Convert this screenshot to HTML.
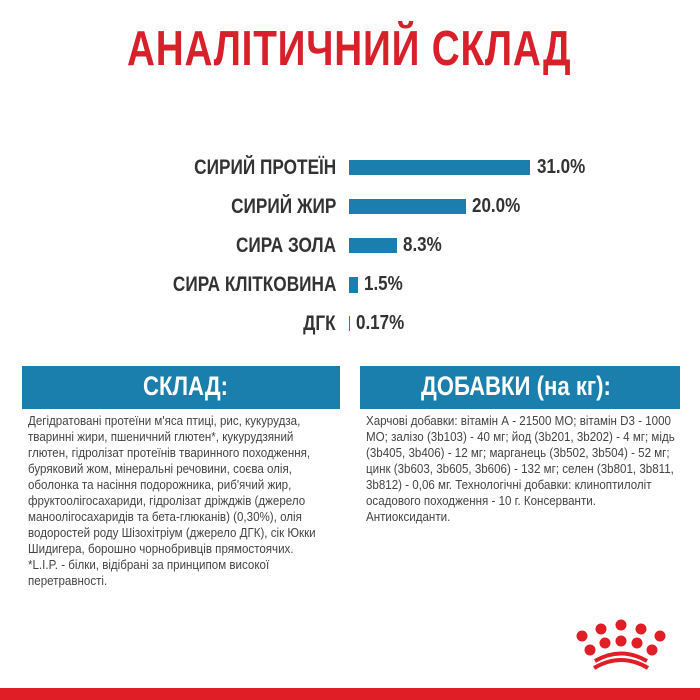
<!DOCTYPE html>
<html><head><meta charset="utf-8"><style>
body{margin:0;width:700px;height:700px;background:#fff;position:relative;overflow:hidden;font-family:"Liberation Sans",sans-serif;}
.a{position:absolute;white-space:nowrap;transform-origin:0 0;}
.t{color:#d7202a;font-weight:bold;font-size:49px;left:127px;top:21px;transform:scaleX(0.79);letter-spacing:1px}
.l{color:#333;font-weight:bold;font-size:21px;transform-origin:100% 0;transform:scaleX(0.82);right:364px}
.v{color:#333;font-weight:bold;font-size:20px;transform:scaleX(0.85)}
.bar{position:absolute;background:#1a7fac;}
.hd{position:absolute;top:366px;height:43px;background:#1a7fac;}
.h{color:#fff;font-weight:bold;font-size:27px;top:371px;transform:scaleX(0.82)}
.p{color:#444;font-size:13px;transform:scaleX(0.89);line-height:16px}
</style></head><body>
<div class="a t">АНАЛІТИЧНИЙ СКЛАД</div>

<div class="a l" style="top:156px">СИРИЙ ПРОТЕЇН</div>
<div class="a l" style="top:195px">СИРИЙ ЖИР</div>
<div class="a l" style="top:234px">СИРА ЗОЛА</div>
<div class="a l" style="top:273px">СИРА КЛІТКОВИНА</div>
<div class="a l" style="top:312px">ДГК</div>

<div class="bar" style="left:349px;top:160px;width:181px;height:15px"></div>
<div class="bar" style="left:349px;top:199px;width:117px;height:15px"></div>
<div class="bar" style="left:349px;top:238px;width:48px;height:15px"></div>
<div class="bar" style="left:349px;top:277px;width:9px;height:16px"></div>
<div class="bar" style="left:349px;top:316px;width:1px;height:15px"></div>

<div class="a v" style="left:537px;top:156px">31.0%</div>
<div class="a v" style="left:472px;top:195px">20.0%</div>
<div class="a v" style="left:403px;top:234px">8.3%</div>
<div class="a v" style="left:364px;top:273px">1.5%</div>
<div class="a v" style="left:356px;top:312px">0.17%</div>

<div class="hd" style="left:22px;width:318px"></div>
<div class="hd" style="left:360px;width:320px"></div>
<div class="a h" style="left:143px">СКЛАД:</div>
<div class="a h" style="left:421px">ДОБАВКИ (на кг):</div>

<div class="a p" style="left:28px;top:413px">Дегідратовані протеїни м'яса птиці, рис, кукурудза,<br>тваринні жири, пшеничний глютен*, кукурудзяний<br>глютен, гідролізат протеїнів тваринного походження,<br>буряковий жом, мінеральні речовини, соєва олія,<br>оболонка та насіння подорожника, риб'ячий жир,<br>фруктоолігосахариди, гідролізат дріжджів (джерело<br>маноолігосахаридів та бета-глюканів) (0,30%), олія<br>водоростей роду Шізохітріум (джерело ДГК), сік Юкки<br>Шидигера, борошно чорнобривців прямостоячих.<br>*L.I.P. - білки, відібрані за принципом високої<br>перетравності.</div>

<div class="a p" style="left:366px;top:413px">Харчові добавки: вітамін А - 21500 МО; вітамін D3 - 1000<br>МО; залізо (3b103) - 40 мг; йод (3b201, 3b202) - 4 мг; мідь<br>(3b405, 3b406) - 12 мг; марганець (3b502, 3b504) - 52 мг;<br>цинк (3b603, 3b605, 3b606) - 132 мг; селен (3b801, 3b811,<br>3b812) - 0,06 мг. Технологічні добавки: клиноптилоліт<br>осадового походження - 10 г. Консерванти.<br>Антиоксиданти.</div>

<svg style="position:absolute;left:560px;top:610px" width="110" height="70" viewBox="560 610 110 70">
<g fill="#e01e26">
<circle cx="590" cy="650" r="5.5"/><circle cx="605" cy="643" r="5.5"/><circle cx="621" cy="641" r="5.5"/><circle cx="637" cy="643" r="5.5"/><circle cx="652" cy="650" r="5.5"/>
<circle cx="601" cy="629" r="5.5"/><circle cx="621" cy="625" r="5.5"/><circle cx="641" cy="629" r="5.5"/><circle cx="660" cy="636" r="5.5"/><circle cx="582" cy="636" r="5.5"/>
</g>
<path d="M594 668 Q621 652 648 668" stroke="#e01e26" stroke-width="4" fill="none"/>
<path d="M595 661 Q621 646 647 661" stroke="#e01e26" stroke-width="4" fill="none"/>
</svg>
<div style="position:absolute;left:0;top:688px;width:700px;height:12px;background:#e01e26"></div>
</body></html>
